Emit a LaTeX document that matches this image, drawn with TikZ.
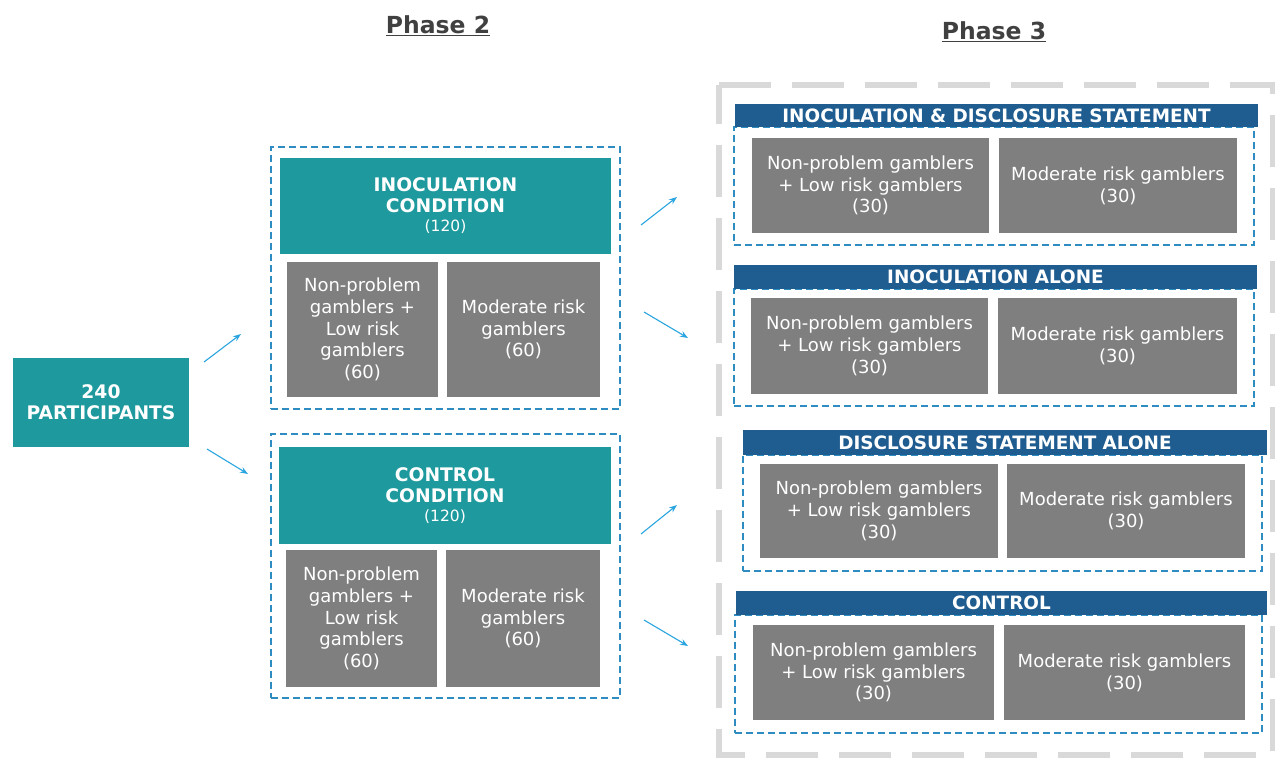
\documentclass[tikz,border=0pt]{standalone}
\usepackage{fontspec}
\setmainfont{DejaVu Sans}
\usetikzlibrary{arrows.meta}
\definecolor{tealc}{HTML}{1E9A9E}
\definecolor{grayf}{HTML}{7F7F7F}
\definecolor{navyc}{HTML}{1F5D91}
\definecolor{dblue}{HTML}{2E8CC0}
\definecolor{arrc}{HTML}{2AA5DF}
\definecolor{outerc}{HTML}{D9D9D9}
\definecolor{titlec}{HTML}{404040}
\begin{document}
\begin{tikzpicture}[x=1pt,y=-1pt,
  gbox/.style={fill=grayf, text=white, draw=none, align=center, inner sep=0pt, font=\fontsize{18}{21.7}\selectfont},
  tbox/.style={fill=tealc, text=white, draw=none, align=center, inner sep=0pt, font=\fontsize{18.7}{21}\bfseries\selectfont},
  hbar/.style={fill=navyc, text=white, draw=none, align=center, inner sep=0pt, font=\fontsize{18.4}{20}\bfseries\selectfont},
  dbox/.style={draw=dblue, dash pattern=on 7pt off 4pt, line width=1.6pt, inner sep=0pt},
  arr/.style={-{Stealth[length=8pt,width=6pt]}, draw=arrc, line width=1.1pt},
  ttl/.style={text=titlec, font=\fontsize{23.5}{26}\bfseries\selectfont, inner sep=0pt, anchor=base}
]
\useasboundingbox (0,0) rectangle (1275,758);

% titles
\node[ttl] (t2) at (438,33) {\underline{Phase 2}};
\node[ttl] (t3) at (994,39) {\underline{Phase 3}};

% outer phase 3 box
\draw[draw=outerc, line width=6pt, dash pattern=on 52pt off 21pt] (719,85) -- (1273,85) -- (1273,755) -- (719,755) -- cycle;

% participants
\node[tbox, minimum width=176pt, minimum height=89pt] (part) at (101,402.5) {240\\PARTICIPANTS};

% phase 2 upper
\node[dbox, minimum width=349pt, minimum height=262pt] (p2a) at (445.5,278) {};
\node[tbox, minimum width=331pt, minimum height=96pt] (inoc) at (445.5,206) {INOCULATION\\CONDITION\\[-2pt]{\mdseries\fontsize{15.5}{16}\selectfont (120)}};
\node[gbox, minimum width=151pt, minimum height=135pt] (inocA) at (362.5,329.5) {Non-problem\\gamblers +\\Low risk\\gamblers\\(60)};
\node[gbox, minimum width=153pt, minimum height=135pt] (inocB) at (523.5,329.5) {Moderate risk\\gamblers\\(60)};

% phase 2 lower
\node[dbox, minimum width=349pt, minimum height=264pt] (p2b) at (445.5,566) {};
\node[tbox, minimum width=332pt, minimum height=97pt] (ctrl) at (445,495.5) {CONTROL\\CONDITION\\[-2pt]{\mdseries\fontsize{15.5}{16}\selectfont (120)}};
\node[gbox, minimum width=151pt, minimum height=137pt] (ctrlA) at (361.5,618.5) {Non-problem\\gamblers +\\Low risk\\gamblers\\(60)};
\node[gbox, minimum width=154pt, minimum height=137pt] (ctrlB) at (523,618.5) {Moderate risk\\gamblers\\(60)};

% phase 3 group 1
\node[dbox, minimum width=520pt, minimum height=118pt] (g1) at (994,186) {};
\node[hbar, minimum width=523pt, minimum height=23pt] (h1) at (996.5,115.5) {INOCULATION \& DISCLOSURE STATEMENT};
\node[gbox, minimum width=237pt, minimum height=95pt] (g1a) at (870.5,185.5) {Non-problem gamblers\\+ Low risk gamblers\\(30)};
\node[gbox, minimum width=238pt, minimum height=95pt] (g1b) at (1118,185.5) {Moderate risk gamblers\\(30)};

% group 2
\node[dbox, minimum width=520pt, minimum height=117pt] (g2) at (994,347.5) {};
\node[hbar, minimum width=523pt, minimum height=24pt] (h2) at (995.5,277) {INOCULATION ALONE};
\node[gbox, minimum width=237pt, minimum height=96pt] (g2a) at (869.5,346) {Non-problem gamblers\\+ Low risk gamblers\\(30)};
\node[gbox, minimum width=239pt, minimum height=96pt] (g2b) at (1117.5,346) {Moderate risk gamblers\\(30)};

% group 3
\node[dbox, minimum width=519pt, minimum height=116pt] (g3) at (1002.5,513) {};
\node[hbar, minimum width=524pt, minimum height=25pt] (h3) at (1005,442.5) {DISCLOSURE STATEMENT ALONE};
\node[gbox, minimum width=238pt, minimum height=94pt] (g3a) at (879,511) {Non-problem gamblers\\+ Low risk gamblers\\(30)};
\node[gbox, minimum width=238pt, minimum height=94pt] (g3b) at (1126,511) {Moderate risk gamblers\\(30)};

% group 4
\node[dbox, minimum width=527pt, minimum height=118pt] (g4) at (998.5,674) {};
\node[hbar, minimum width=531pt, minimum height=24pt] (h4) at (1001.5,603) {CONTROL};
\node[gbox, minimum width=241pt, minimum height=95pt] (g4a) at (873.5,672.5) {Non-problem gamblers\\+ Low risk gamblers\\(30)};
\node[gbox, minimum width=241pt, minimum height=95pt] (g4b) at (1124.5,672.5) {Moderate risk gamblers\\(30)};

% arrows
\coordinate (a1s) at (204,362); \coordinate (a1e) at (241,334);
\coordinate (a2s) at (207,449); \coordinate (a2e) at (248,474);
\coordinate (a3s) at (641,225); \coordinate (a3e) at (677,197);
\coordinate (a4s) at (644,312); \coordinate (a4e) at (688,338);
\coordinate (a5s) at (641,534); \coordinate (a5e) at (677,505);
\coordinate (a6s) at (644,620); \coordinate (a6e) at (688,646);
\draw[arr] (a1s) -- (a1e);
\draw[arr] (a2s) -- (a2e);
\draw[arr] (a3s) -- (a3e);
\draw[arr] (a4s) -- (a4e);
\draw[arr] (a5s) -- (a5e);
\draw[arr] (a6s) -- (a6e);
\end{tikzpicture}
\end{document}
